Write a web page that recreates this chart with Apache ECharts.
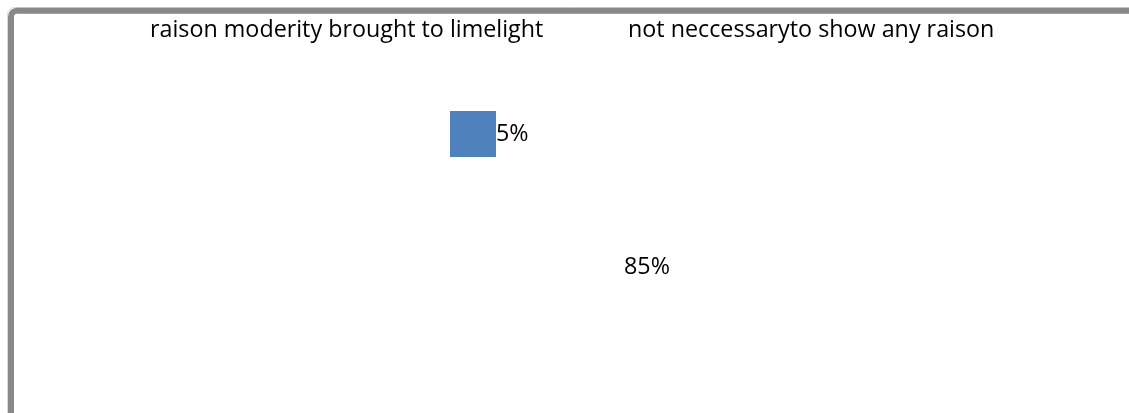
<!DOCTYPE html>
<html>
<head>
<meta charset="utf-8">
<script src="https://cdn.jsdelivr.net/npm/echarts@6/dist/echarts.min.js"></script>
<style>
  html, body { margin: 0; padding: 0; background: #ffffff; }
  #chart { width: 1129px; height: 413px; }
</style>
</head>
<body>
<div id="chart"></div>
<script>
// Answer categories and their shares (percent)
const categories = ['raison moderity brought to limelight', 'not neccessaryto show any raison'];
const shares = [5, 85];
const markColors = ['#4F81BD', 'rgba(0,0,0,0)'];

const FONT = '"Open Sans", "Noto Sans", sans-serif';
const FONT_SIZE = 23.3;

const chart = echarts.init(document.getElementById('chart'), null, { renderer: 'canvas' });

const series = categories.map((name, i) => ({
  name: name,
  type: 'scatter',
  symbol: 'rect',
  symbolSize: 46,
  silent: true,
  emphasis: { disabled: true },
  itemStyle: { color: markColors[i], opacity: 1 },
  label: {
    show: true,
    position: 'right',
    distance: 0,
    color: '#000000',
    opacity: 1,
    fontFamily: FONT,
    fontSize: FONT_SIZE,
    formatter: p => p.value[1] + '%'
  },
  data: [[i, shares[i]]]
}));

const legendLefts = [130, 608];

chart.setOption({
  animation: false,
  backgroundColor: '#ffffff',
  grid: { left: 409, width: 256, top: 125.7, height: 166.9 },
  xAxis: { type: 'category', data: categories, show: false, boundaryGap: true },
  yAxis: { type: 'value', inverse: true, min: 0, max: 100, show: false },
  legend: categories.map((name, i) => ({
    data: [name],
    left: legendLefts[i],
    top: 14,
    itemWidth: 10,
    itemHeight: 10,
    icon: 'rect',
    selectedMode: false,
    itemStyle: { opacity: 0 },
    textStyle: { fontFamily: FONT, fontSize: FONT_SIZE, color: '#000000' }
  })),
  graphic: [
    {
      type: 'rect',
      silent: true,
      shape: { x: 7.5, y: 7.5, width: 1200, height: 500, r: 7 },
      style: { fill: null, stroke: '#d9d9d9', lineWidth: 1 }
    },
    {
      type: 'rect',
      silent: true,
      shape: { x: 11, y: 10.7, width: 1200, height: 500, r: 6 },
      style: { fill: null, stroke: '#888888', lineWidth: 6 }
    }
  ],
  series: series
});
</script>
</body>
</html>
